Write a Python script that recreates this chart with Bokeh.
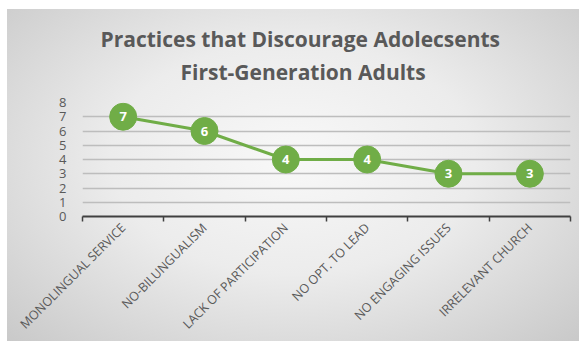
import math
from bokeh.plotting import figure
from bokeh.models import FixedTicker, ColumnDataSource, Title
from bokeh.core.properties import value
from bokeh.embed import file_html
from bokeh.resources import INLINE

categories = ["MONOLINGUAL SERVICE", "NO-BILUNGUALISM", "LACK OF PARTICIPATION",
              "NO OPT. TO LEAD", "NO ENGAGING ISSUES", "IRRELEVANT CHURCH"]
counts = [7, 6, 4, 4, 3, 3]
y_ticks = [0, 1, 2, 3, 4, 5, 6, 7, 8]
title_lines = ["Practices that Discourage Adolecsents", "First-Generation Adults"]

xs = [i + 0.5 for i in range(len(categories))]
src = ColumnDataSource(dict(x=xs, y=counts, lab=[str(c) for c in counts]))

p = figure(width=572, height=332, output_backend="svg", toolbar_location=None,
           x_range=(0, len(categories)), y_range=(0, 8),
           min_border_left=75, min_border_right=9, min_border_top=93, min_border_bottom=124)
p.margin = (9, 0, 0, 7)
p.background_fill_color = None
p.border_fill_color = None
p.outline_line_color = None
p.styles = {"background": "radial-gradient(ellipse at 50% 45%, #f8f8f8 0%, #ececec 45%, #c9c9c9 100%)"}
p.title.text = ""

# title lines (second line is closest to the frame, so it is added first)
for txt, off, so in [(title_lines[1], 98, 34), (title_lines[0], 18, -28)]:
    p.add_layout(Title(text=txt, align="left", offset=off, standoff=so,
                       text_font="Open Sans", text_font_size="21px", text_font_style="bold",
                       text_color="#595959"), "above")

# grid
p.xgrid.grid_line_color = None
p.ygrid.ticker = FixedTicker(ticks=y_ticks)
p.ygrid.grid_line_color = "#bdbdbd"
p.ygrid.grid_line_width = 1.5

# y axis
p.yaxis.ticker = FixedTicker(ticks=y_ticks)
p.yaxis.axis_line_color = None
p.yaxis.major_tick_line_color = None
p.yaxis.minor_tick_line_color = None
p.yaxis.major_label_standoff = 10
p.yaxis.major_label_text_font = "Open Sans"
p.yaxis.major_label_text_font_size = "13px"
p.yaxis.major_label_text_color = "#595959"

# x axis
p.xaxis.ticker = FixedTicker(ticks=xs, minor_ticks=list(range(len(categories) + 1)))
p.xaxis.major_label_overrides = {x: c for x, c in zip(xs, categories)}
p.xaxis.major_label_orientation = math.pi / 4
p.xaxis.major_tick_line_color = None
p.xaxis.major_tick_out = 0
p.xaxis.major_tick_in = 0
p.xaxis.minor_tick_line_color = "#404040"
p.xaxis.minor_tick_line_width = 1.5
p.xaxis.minor_tick_out = 5
p.xaxis.minor_tick_in = 0
p.xaxis.axis_line_color = "#404040"
p.xaxis.axis_line_width = 2
p.xaxis.major_label_standoff = 4
p.xaxis.major_label_text_font = "Open Sans"
p.xaxis.major_label_text_font_size = "12.5px"
p.xaxis.major_label_text_color = "#595959"

p.line("x", "y", source=src, line_color="#70ad47", line_width=3)
p.scatter("x", "y", source=src, size=27, fill_color="#70ad47", line_color="#70ad47")
p.text("x", "y", text="lab", source=src, text_align="center", text_baseline="middle",
       text_color="white", text_font=value("Open Sans"), text_font_size="13px",
       text_font_style="bold")

open("out.html", "w").write(file_html(p, INLINE))
